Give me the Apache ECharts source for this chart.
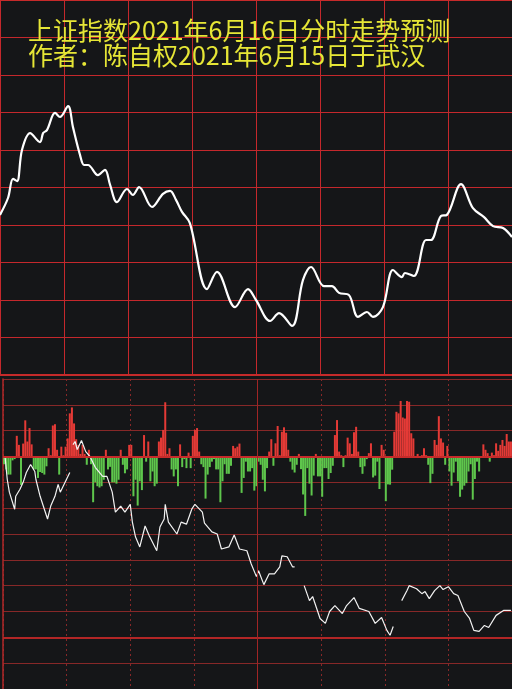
<!DOCTYPE html>
<html>
<head>
<meta charset="utf-8">
<script src="https://cdn.jsdelivr.net/npm/echarts@6/dist/echarts.min.js"></script>
<style>html,body{margin:0;padding:0;background:#151618;}#chart{width:512px;height:689px;}</style>
</head>
<body>
<div id="chart"></div>
<script>
// ---- Titles ----
var titleLine1 = '上证指数2021年6月16日分时走势预测';
var titleLine2 = '作者：陈自权2021年6月15日于武汉';

// ---- Upper panel: predicted intraday index curve (minute, relative level) ----
var priceMinutes = [0,3.75,6.1,8,10.3,14.1,18.75,20.2,22,25.8,28.1,31.9,34.2,37.5,39.4,41.25,45.9,49.2,51.6,54.8,59.5,62.3,65.2,71.25,76.4,79.7,82.5,85.3,89,97,101.7,110.2,116.25,120,126.6,130.8,136.9,142,145.8,151.9,155.6,158.9,163.6,167.8,172,174.8,179.5,184.2,188.4,189.8,194,199.7,202,206.7,209.5,216.1,221.7,226.9,231.1,235.8,240];
var priceValues = [4.27,4.72,5.23,5.17,6.0,6.45,6.21,6.45,6.53,6.99,6.88,7.17,6.61,5.87,5.6,5.6,5.33,5.47,5.07,4.61,4.96,4.8,5.01,4.48,4.83,4.91,4.67,4.35,4.05,2.29,2.75,1.81,2.29,2.0,1.44,1.65,1.31,2.53,2.88,2.37,2.37,2.19,2.13,1.55,1.68,1.55,1.81,2.8,2.61,2.72,2.64,3.6,3.6,4.24,4.27,5.09,4.45,4.21,3.97,3.92,3.68];

// ---- Lower panel: red/green bars (one per minute) ----
var barValues = [
-0.3,-0.5,-0.7,-0.7,-0.15,-0.1,0.8,0.45,-1.1,0.5,1.4,0.58,1.1,0.47,-0.5,-0.5,-0.83,-0.6,-0.64,-0.7,
-0.38,0.32,0.05,1.2,1.25,0.26,-0.7,0.38,0.05,0.38,0.7,1.67,1.9,1.28,0.67,0.45,0.1,0.45,0.1,-0.32,
0.26,-0.3,-1.77,-1.0,-1.15,-1.2,-1.15,-0.9,0.26,-0.5,-0.4,-1.0,-1.0,-1.05,-0.9,0.26,-0.32,-0.65,-0.5,0.45,
0.45,-1.54,-0.9,-1.9,-0.96,-1.3,0.83,-0.2,0.58,-0.96,-0.58,-1.15,-1.05,0.58,0.73,1.03,2.1,0.1,0.32,-0.5,
-0.77,-0.5,-1.15,0.47,-0.41,-0.1,-0.45,0.15,-0.45,0.8,1.03,1.1,0.19,-0.3,-0.41,-1.63,-0.7,-0.41,-0.2,-0.1,
-0.5,-0.5,-1.77,-0.96,-0.3,-0.67,-0.67,-0.36,0.41,0.32,0.38,0.5,-1.41,-0.83,-0.2,-0.58,-0.58,-0.45,-1.32,-1.15,
-0.2,-0.32,-0.9,-1.35,-0.45,0.19,0.67,-0.36,0.51,1.18,0.05,0.96,1.13,0.92,0.26,-0.2,-0.51,-0.62,-0.32,0.1,
-0.49,-1.47,-2.3,-0.45,-1.05,-1.51,-0.74,0.1,-0.77,-0.77,-1.56,-0.45,-0.45,-0.87,-0.64,-0.36,0.83,1.41,0.19,0.05,
-0.41,0.05,0.73,0.51,0.1,0.94,1.15,0.19,-0.41,-0.67,-0.38,-0.1,0.13,0.51,-0.81,-0.74,-0.2,-1.26,0.45,0.26,
-1.73,-1.08,-1.09,-0.51,0.96,1.73,1.67,2.15,1.51,1.47,2.15,2.12,0.9,0.7,-0.05,0.1,-0.05,0.05,0.32,0.05,
-0.32,-1.03,-0.67,0.64,0.45,1.56,0.7,0.54,-0.32,0.41,-0.58,-1.13,-0.62,-0.2,-0.96,-1.56,-1.28,-1.13,-1.03,-0.58,
-0.3,-1.67,-0.87,-0.2,-0.58,-0.05,0.47,0.26,0.13,-0.2,0.15,0.05,0.51,0.22,0.45,0.64,0.41,0.87,0.58,0.58
];

// ---- Lower panel: white line (minute, level; null = gap) ----
var subMinutes = [1,2,3,5.5,6,8,9.5,11,13,15,15.5,17.5,19.5,21,22.5,24.5,26,27,29.5,31.5,32.5,33,34,35,37,39,41,43.5,47,49,51.5,53,55.5,57.5,60,61,62.5,64.5,67,69,72.5,74,76,76.5,78,82,84,86.5,89,90.5,94,95,98.5,101,103,106.5,109,111.5,115,117,119.5,120.5,123,125.5,128,130.5,131.5,134,136.5,137.5,140,142,144.5,146,149.5,152,154,156.5,160,162,165.5,168,172.5,175.5,178.5,181,182.5,184,185.5,188,190.5,191.5,195,197.5,199,201,203.5,206,207.5,210,212.5,214.5,217.5,220,222,224.5,227,229,232.5,236,239.5];
var subValues = [-0.04,-0.88,-1.38,-2.04,-1.54,-1.27,-1.0,-0.62,-0.31,-0.58,-0.88,-1.54,-2.04,-2.42,-1.92,-1.54,-1.08,-1.38,-0.96,-0.62,null,0.46,0.58,0.27,0.62,0.19,0,-0.42,-0.77,-0.77,-1.38,-2.15,-1.92,-2.15,-1.85,-2.54,-3.12,-3.5,-2.69,-3.08,-3.65,-2.73,-2.42,-1.85,-2.54,-3.0,-2.54,-2.62,-2.04,-1.85,-2.15,-2.58,-2.92,-3.0,-3.58,-3.5,-3.04,-3.58,-3.65,-4.15,-4.65,-4.42,-4.96,-4.54,-4.54,-4.27,-3.85,-3.88,-4.27,-4.27,null,-5.0,-5.58,-5.42,-6.27,-6.46,-6.0,-5.77,-6.08,-5.77,-5.46,-5.88,-6.0,-6.46,-6.23,-6.73,-6.92,-6.58,null,-5.58,-5.19,-5.0,-5.12,-5.31,-5.23,-5.5,-5.19,-5.0,-5.15,-5.04,-5.31,-5.38,-6.0,-6.27,-6.73,-6.77,-6.54,-6.62,-6.15,-5.96,-5.96];

var RED_GRID = '#c4282c';
var DARK_GRID = '#872828';
var BAR_UP = '#e43a36';
var BAR_DOWN = '#5ec64c';

var chart = echarts.init(document.getElementById('chart'), null, {renderer: 'canvas'});

var priceData = priceMinutes.map(function (m, i) { return [m, priceValues[i]]; });
var barData = barValues.map(function (v, i) { return [i + 0.5, v]; });
var subData = subMinutes.map(function (m, i) { return [m, subValues[i] === null ? '-' : subValues[i]]; });

var option = {
  backgroundColor: '#151618',
  animation: false,
  title: {
    text: titleLine1 + '\n' + titleLine2,
    left: 23,
    top: 13,
    textStyle: {
      color: '#e6e636',
      fontFamily: 'Noto Sans CJK SC',
      fontWeight: 'normal',
      fontSize: 25,
      lineHeight: 25
    }
  },
  grid: [
    {left: 0, right: 0, top: 0, height: 375},
    {left: 3, right: 0, top: 379, height: 312}
  ],
  xAxis: [
    {
      type: 'value', gridIndex: 0, min: 0, max: 240, interval: 30,
      axisLine: {show: false}, axisTick: {show: false}, axisLabel: {show: false},
      splitLine: {show: true, lineStyle: {color: RED_GRID, width: 1}}
    },
    {
      type: 'value', gridIndex: 1, min: 0, max: 240, interval: 30,
      axisLine: {show: false}, axisTick: {show: false}, axisLabel: {show: false},
      splitLine: {show: true, lineStyle: {color: DARK_GRID, width: 1, type: [2, 3]}}
    }
  ],
  yAxis: [
    {
      type: 'value', gridIndex: 0, min: 0, max: 10, interval: 1,
      axisLine: {show: false}, axisTick: {show: false}, axisLabel: {show: false},
      splitLine: {show: true, lineStyle: {color: RED_GRID, width: 1}}
    },
    {
      type: 'value', gridIndex: 1, min: -9, max: 3, interval: 1,
      axisLine: {show: true, lineStyle: {color: '#b02828', width: 1.5}},
      axisTick: {show: false}, axisLabel: {show: false},
      splitLine: {show: true, lineStyle: {color: DARK_GRID, width: 1}}
    }
  ],
  series: [
    {
      type: 'line', xAxisIndex: 0, yAxisIndex: 0,
      data: priceData, smooth: 0.35, showSymbol: false,
      lineStyle: {color: '#ffffff', width: 2.2},
      markLine: {
        silent: true, symbol: 'none', label: {show: false},
        lineStyle: {color: '#c62a2a', width: 2, type: 'solid'},
        data: [{yAxis: 0}, {yAxis: 10}]
      }
    },
    {
      type: 'bar', xAxisIndex: 1, yAxisIndex: 1,
      data: barData, barWidth: 2,
      itemStyle: {color: function (p) { return p.value[1] >= 0 ? BAR_UP : BAR_DOWN; }},
      markLine: {
        silent: true, symbol: 'none', label: {show: false},
        data: [
          {yAxis: 0, lineStyle: {color: '#c62a2a', width: 2, type: 'solid'}},
          {yAxis: -7, lineStyle: {color: '#b22626', width: 2, type: 'solid'}},
          {xAxis: 120, lineStyle: {color: '#a02525', width: 1, type: 'solid'}}
        ]
      }
    },
    {
      type: 'line', xAxisIndex: 1, yAxisIndex: 1,
      data: subData, showSymbol: false, connectNulls: false,
      lineStyle: {color: '#f2f2f2', width: 1.2}
    }
  ]
};
chart.setOption(option);
</script>
</body>
</html>
